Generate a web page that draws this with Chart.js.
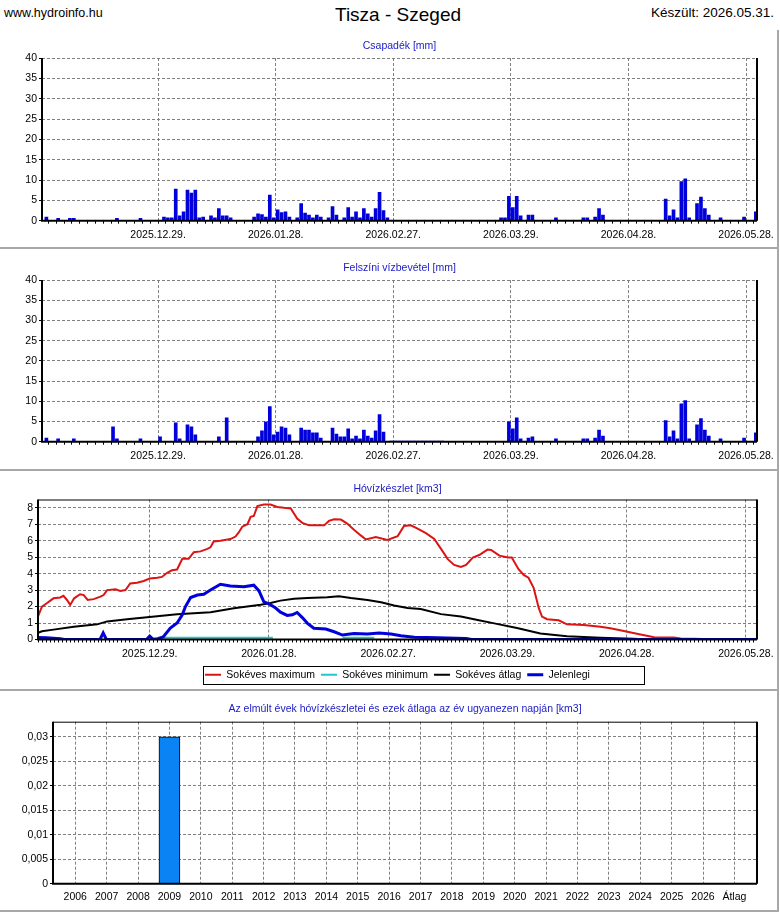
<!DOCTYPE html>
<html>
<head>
<meta charset="utf-8">
<title>Tisza - Szeged</title>
<script src="https://cdn.jsdelivr.net/npm/chart.js@4.4.1/dist/chart.umd.min.js"></script>
<style>
  html, body { margin: 0; padding: 0; background: #fff; }
  body { width: 780px; height: 913px; position: relative; overflow: hidden; font-family: "Liberation Sans", Arial, sans-serif; }
  .hdr { position: absolute; color: #000; white-space: nowrap; }
  .site { left: 4px; top: 6px; font-size: 12.5px; }
  .main { left: 335px; top: 4px; font-size: 19px; }
  .made { right: 6px; top: 5px; font-size: 13.5px; }
  canvas { position: absolute; left: 0; }
  .sep { position: absolute; left: 0; width: 779px; height: 2px; background: #a8a8a8; }
  .vsep { position: absolute; left: 777px; top: 30px; width: 2px; height: 882px; background: #a8a8a8; }
</style>
</head>
<body>
<div class="hdr site">www.hydroinfo.hu</div>
<div class="hdr main">Tisza - Szeged</div>
<div class="hdr made">Készült: 2026.05.31.</div>

<canvas id="c1" width="778" height="216" style="top:30px"></canvas>
<canvas id="c2" width="778" height="218" style="top:250px"></canvas>
<canvas id="c3" width="778" height="218" style="top:472px"></canvas>
<canvas id="c4" width="778" height="218" style="top:692px"></canvas>

<div class="sep" style="top:247px"></div>
<div class="sep" style="top:469px"></div>
<div class="sep" style="top:689px"></div>
<div class="sep" style="top:910px"></div>
<div class="vsep"></div>

<script>
// day index 0 = 2025.11.30.
const dateTicks = [29, 59, 89, 119, 149, 179];
const dateLabels = ['2025.12.29.', '2026.01.28.', '2026.02.27.', '2026.03.29.', '2026.04.28.', '2026.05.28.'];
const mmTicks = [0, 5, 10, 15, 20, 25, 30, 35, 40];

// Csapadék [mm]
const precipDays = [0, 3, 6, 7, 18, 24, 30, 31, 32, 33, 34, 35, 36, 37, 38, 39, 40, 42, 43, 44,
  45, 46, 47, 53, 54, 55, 56, 57, 58, 59, 60, 61, 62, 64, 65, 66, 67, 68, 69, 70,
  72, 73, 74, 76, 77, 78, 79, 80, 81, 82, 83, 84, 85, 86, 87, 116, 117, 118, 119, 120,
  121, 123, 124, 130, 137, 138, 140, 141, 142, 158, 159, 160, 161, 162, 163, 164, 166, 167, 168, 169,
  172, 178, 181];
const precipVals = [0.9, 0.6, 0.6, 0.6, 0.6, 0.6, 0.9, 0.7, 0.7, 7.8, 1.2, 2.2, 7.5, 6.8, 7.5, 0.7, 0.9, 1.2, 0.7, 3.0,
  1.2, 1.2, 0.7, 0.9, 1.7, 1.5, 0.9, 6.3, 0.7, 2.7, 2.0, 2.2, 0.9, 0.7, 4.2, 1.9, 1.4, 0.7, 1.4, 0.9,
  0.7, 3.5, 1.4, 0.7, 3.2, 0.9, 2.2, 0.7, 3.0, 1.7, 0.9, 3.0, 7.0, 2.5, 0.7, 0.7, 0.7, 6.0, 3.2, 6.0,
  1.2, 1.4, 1.4, 0.7, 0.7, 0.7, 0.9, 3.0, 1.4, 5.3, 1.2, 2.7, 0.7, 9.6, 10.3, 0.7, 4.2, 5.8, 3.0, 1.4,
  0.7, 0.9, 2.2];

// Felszíni vízbevétel [mm]
const inputDays = [0, 3, 7, 17, 18, 24, 29, 33, 34, 36, 37, 38, 44, 46, 54, 55, 56, 57, 58, 59,
  60, 61, 62, 65, 66, 67, 68, 69, 70, 73, 74, 75, 76, 77, 78, 79, 80, 81, 82, 83,
  84, 85, 86, 88, 89, 90, 91, 92, 93, 94, 95, 96, 97, 98, 99, 100, 101, 118, 119, 120,
  121, 123, 124, 130, 137, 138, 140, 141, 142, 158, 159, 160, 161, 162, 163, 164, 166, 167, 168, 169,
  172, 178, 181];
const inputVals = [0.9, 0.7, 0.7, 3.7, 0.7, 0.7, 1.2, 4.7, 0.7, 4.2, 3.7, 1.7, 1.2, 5.9, 1.2, 2.7, 4.9, 8.7, 1.7, 2.4,
  3.7, 3.4, 1.7, 3.4, 2.9, 2.9, 2.2, 2.2, 0.9, 3.4, 1.9, 1.2, 1.2, 3.2, 0.7, 1.4, 0.7, 2.9, 1.4, 0.9,
  2.7, 6.7, 2.4, 0.15, 0.15, 0.15, 0.15, 0.15, 0.15, 0.15, 0.15, 0.15, 0.15, 0.15, 0.15, 0.15, 0.15, 4.9, 3.2, 5.9,
  0.7, 0.9, 1.2, 0.7, 0.7, 0.7, 0.9, 2.9, 1.4, 5.2, 1.2, 2.7, 0.7, 9.4, 10.2, 0.7, 4.2, 5.7, 2.9, 1.4,
  0.7, 0.9, 2.2];

// Hóvízkészlet [km3]
const maxDays = [0.9, 1.9, 3.1, 4.8, 6.5, 7.3, 8.2, 9.0, 10.0, 11.5,
  12.4, 13.4, 14.9, 16.6, 17.4, 18.3, 20.4, 21.6, 22.9, 24.1,
  25.8, 27.5, 29.0, 30.9, 32.1, 33.4, 34.6, 35.9, 37.2, 38.8,
  40.1, 41.8, 43.5, 44.3, 45.1, 46.8, 49.3, 50.6, 51.4, 52.3,
  53.6, 54.4, 55.2, 56.1, 57.7, 59.4, 61.1, 62.8, 64.5, 66.1,
  67.4, 69.1, 72.9, 74.1, 75.4, 77.1, 78.7, 80.4, 82.1, 83.4,
  85.9, 88.8, 91.4, 93.0, 94.7, 96.4, 98.5, 100.6, 102.3, 104.0,
  105.6, 107.3, 108.6, 110.3, 111.9, 114.0, 114.9, 117.0, 119.1, 120.1,
  121.8, 123.1, 124.3, 125.6, 126.9, 127.7, 129.0, 131.9, 134.0, 138.2,
  142.4, 144.9, 148.3, 152.5, 155.9, 160.9, 162.6, 166.0, 172.0];
const maxVals = [1.4, 2.0, 2.2, 2.5, 2.55, 2.65, 2.4, 2.1, 2.5, 2.75,
  2.7, 2.4, 2.45, 2.6, 2.7, 3.0, 3.05, 2.95, 3.0, 3.4,
  3.45, 3.55, 3.7, 3.75, 3.8, 4.05, 4.2, 4.25, 4.9, 4.9,
  5.3, 5.35, 5.5, 5.6, 5.95, 6.0, 6.1, 6.25, 6.5, 6.85,
  7.0, 7.45, 7.5, 8.1, 8.2, 8.2, 8.05, 8.0, 7.96, 7.34,
  7.08, 6.93, 6.93, 7.2, 7.3, 7.28, 7.04, 6.67, 6.32, 6.07,
  6.22, 6.05, 6.28, 6.89, 6.93, 6.73, 6.46, 6.11, 5.5, 4.88,
  4.53, 4.41, 4.53, 4.98, 5.13, 5.46, 5.44, 5.09, 4.98, 4.98,
  4.27, 3.92, 3.75, 3.14, 1.9, 1.39, 1.23, 1.17, 0.92, 0.88,
  0.78, 0.68, 0.51, 0.31, 0.14, 0.12, 0.06, 0.04, 0];
const minDays = [32.5, 60.0, 60.5, 77.5, 85.5];
const minVals = [0.1, 0.1, null, 0.1, 0.1];
const avgDays = [0.9, 1.9, 4.8, 9.9, 15.8, 18.3, 23.3, 29.0, 35.9, 44.3,
  50.2, 56.9, 59.4, 61.9, 65.3, 68.7, 73.7, 76.6, 79.6, 83.8,
  87.2, 90.5, 93.9, 97.2, 102.3, 107.3, 111.5, 115.7, 121.4, 127.3,
  134.0, 142.4, 150.8, 153.3, 158.0];
const avgVals = [0.4, 0.5, 0.6, 0.78, 0.92, 1.1, 1.23, 1.37, 1.54, 1.66,
  1.9, 2.11, 2.22, 2.36, 2.48, 2.52, 2.56, 2.63, 2.52, 2.4,
  2.26, 2.07, 1.91, 1.85, 1.54, 1.39, 1.19, 0.98, 0.7, 0.37,
  0.2, 0.1, 0.04, 0.02, 0];
const curDays = [0.9, 3.0, 6.5, 7.5, 16.5, 17.3, 18.1, 28.2, 29.0, 29.8,
  31.0, 32.4, 34.2, 35.9, 37.2, 38.0, 39.3, 41.0, 42.6, 44.3,
  46.8, 49.3, 52.7, 55.2, 56.5, 57.7, 59.4, 60.7, 61.9, 63.6,
  64.9, 66.1, 67.4, 68.7, 70.3, 73.3, 75.4, 77.5, 80.4, 83.8,
  86.7, 89.7, 92.2, 95.6, 101.4, 108.6, 110.0, 181.8];
const curVals = [0.12, 0.1, 0.05, 0, 0, 0.4, 0, 0, 0.2, 0.02,
  0.05, 0.15, 0.7, 1.0, 1.5, 2.0, 2.55, 2.7, 2.75, 3.0,
  3.35, 3.25, 3.2, 3.3, 2.95, 2.3, 2.11, 1.91, 1.66, 1.46,
  1.5, 1.64, 1.33, 0.98, 0.68, 0.64, 0.47, 0.27, 0.37, 0.33,
  0.39, 0.33, 0.23, 0.14, 0.1, 0.06, 0, 0];
const kmTicks = [0, 1, 2, 3, 4, 5, 6, 7, 8];

// Az elmúlt évek hóvízkészletei ...
const years = ['2006', '2007', '2008', '2009', '2010', '2011', '2012', '2013', '2014', '2015', '2016',
  '2017', '2018', '2019', '2020', '2021', '2022', '2023', '2024', '2025', '2026', 'Átlag'];
const yearVals = [0, 0, 0, 0.03, 0, 0, 0, 0, 0, 0, 0, 0, 0, 0, 0, 0, 0, 0, 0, 0, 0, 0];
const yearTicks = [0, 0.005, 0.01, 0.015, 0.02, 0.025, 0.03];

const FONT = { family: '"Liberation Sans", Arial, sans-serif', size: 10.5 };
const GRID = '#808080';
const NONE = 'rgba(0,0,0,0)';
const TITLE_BLUE = '#2020c8';
const BAR_BLUE = '#0000dc';

Chart.defaults.font.family = FONT.family;
Chart.defaults.font.size = FONT.size;
Chart.defaults.color = '#000';

// black plot frame drawn over the data, like the original
const framePlugin = {
  id: 'frame',
  afterDatasetsDraw(chart, args, opts) {
    const { ctx, chartArea: a } = chart;
    ctx.save();
    ctx.strokeStyle = '#000';
    ctx.setLineDash([]);
    if (opts.top) {
      ctx.lineWidth = 1;
      ctx.beginPath();
      ctx.moveTo(a.left, a.top + 0.5);
      ctx.lineTo(a.right, a.top + 0.5);
      ctx.stroke();
    }
    ctx.lineWidth = 2;
    ctx.beginPath();
    ctx.moveTo(a.right, a.top);
    ctx.lineTo(a.right, a.bottom);
    ctx.moveTo(a.left, a.top);
    ctx.lineTo(a.left, a.bottom);
    ctx.lineTo(a.right, a.bottom);
    ctx.stroke();
    ctx.restore();
  }
};

const legendBoxPlugin = {
  id: 'legendBox',
  afterDraw(chart) {
    const lg = chart.legend;
    if (!lg || !lg.legendHitBoxes || !lg.legendHitBoxes.length) return;
    const hb = lg.legendHitBoxes;
    const first = hb[0], last = hb[hb.length - 1];
    const ctx = chart.ctx;
    ctx.save();
    ctx.strokeStyle = '#000';
    ctx.lineWidth = 1;
    ctx.strokeRect(Math.round(first.left) - 1.5, Math.round(first.top) - 3.5,
      Math.round(last.left + last.width - first.left) + 56, Math.round(first.height) + 7);
    ctx.restore();
  }
};

function pts(xs, ys, shift) {
  return xs.map((x, i) => ({ x: x + (shift || 0), y: ys[i] }));
}

function dayAxis(min, max, every, height) {
  return {
    type: 'linear', min, max, offset: false,
    afterBuildTicks: s => {
      const t = [];
      for (let d = Math.ceil(min); d <= max; d++) t.push({ value: d });
      s.ticks = t;
    },
    afterFit: s => { s.height = height; },
    ticks: {
      autoSkip: false, maxRotation: 0, minRotation: 0, padding: 5, font: FONT,
      callback: v => { const i = dateTicks.indexOf(v); return i < 0 ? '' : dateLabels[i]; }
    },
    grid: {
      offset: false, tickLength: 3,
      color: c => (c.tick && dateTicks.includes(c.tick.value)) ? GRID : NONE,
      tickColor: c => (c.tick && (every === 1 || c.tick.value % 2 === 1)) ? '#000' : NONE
    },
    border: { display: false, dash: [3, 2] }
  };
}

function valueAxis(min, max, ticks, width, fmt) {
  return {
    type: 'linear', min, max,
    afterBuildTicks: s => { s.ticks = ticks.map(v => ({ value: v })); },
    afterFit: s => { s.width = width; },
    ticks: { padding: 2, font: FONT, callback: fmt || (v => v) },
    grid: { color: GRID, tickColor: '#000', tickLength: 3 },
    border: { display: false, dash: [3, 2] }
  };
}

function titleOpts(text, top, bottom) {
  return {
    display: true, text, fullSize: false, color: TITLE_BLUE,
    font: { family: FONT.family, size: FONT.size, weight: 'normal' },
    padding: { top, bottom }
  };
}

function barChart(id, days, vals, title, tTop, tBottom, xHeight) {
  return new Chart(document.getElementById(id), {
    type: 'bar',
    data: { datasets: [{ data: pts(days, vals, 0.5), backgroundColor: BAR_BLUE, barThickness: 3 }] },
    options: {
      responsive: false, animation: false,
      layout: { padding: { left: 0, right: 21, top: 0, bottom: 0 } },
      scales: {
        x: dayAxis(-0.62, 181.8, 2, xHeight),
        y: valueAxis(0, 40, mmTicks, 42)
      },
      plugins: {
        legend: { display: false }, tooltip: { enabled: false },
        title: titleOpts(title, tTop, tBottom),
        frame: { top: false }
      }
    },
    plugins: [framePlugin]
  });
}

barChart('c1', precipDays, precipVals, 'Csapadék [mm]', 9.7, 5.7, 25.3);
barChart('c2', inputDays, inputVals, 'Felszíni vízbevétel [mm]', 11.7, 5.8, 26.3);

new Chart(document.getElementById('c3'), {
  type: 'line',
  data: {
    datasets: [
      { label: 'Sokéves maximum', data: pts(maxDays, maxVals), borderColor: '#dc1414', backgroundColor: '#dc1414', borderWidth: 2, order: 3 },
      { label: 'Sokéves minimum', data: pts(minDays, minVals), borderColor: '#22c8c8', backgroundColor: '#22c8c8', borderWidth: 2, order: 2 },
      { label: 'Sokéves átlag', data: pts(avgDays, avgVals), borderColor: '#000000', backgroundColor: '#000000', borderWidth: 2, order: 1 },
      { label: 'Jelenlegi', data: pts(curDays, curVals), borderColor: '#0000dc', backgroundColor: '#0000dc', borderWidth: 3, order: 0 }
    ]
  },
  options: {
    responsive: false, animation: false,
    elements: { point: { radius: 0 }, line: { tension: 0 } },
    layout: { padding: { left: 0, right: 21, top: 0, bottom: 0 } },
    scales: {
      x: dayAxis(0.9, 181.8, 1, 24),
      y: valueAxis(0, 8.5, kmTicks, 38)
    },
    plugins: {
      tooltip: { enabled: false },
      title: titleOpts('Hóvízkészlet [km3]', 10.7, 4.2),
      legend: {
        position: 'bottom', fullSize: false,
        labels: {
          usePointStyle: true, pointStyle: 'line', pointStyleWidth: 16, padding: 6,
          color: '#000', font: FONT,
          sort: (a, b) => a.datasetIndex - b.datasetIndex
        }
      },
      frame: { top: true }
    }
  },
  plugins: [framePlugin, legendBoxPlugin]
});

new Chart(document.getElementById('c4'), {
  type: 'bar',
  data: {
    datasets: [{
      data: yearVals.map((v, i) => ({ x: i, y: v })),
      backgroundColor: '#0a84f5', borderColor: '#000', borderWidth: 1, barThickness: 21
    }]
  },
  options: {
    responsive: false, animation: false,
    layout: { padding: { left: 0, right: 21, top: 0, bottom: 0 } },
    scales: {
      x: {
        type: 'linear', min: -0.71, max: 21.72, offset: false,
        afterBuildTicks: s => { s.ticks = years.map((y, i) => ({ value: i })); },
        afterFit: s => { s.height = 26.3; },
        ticks: { autoSkip: false, maxRotation: 0, minRotation: 0, padding: 7, font: FONT, callback: v => years[v] },
        grid: { offset: false, color: GRID, drawTicks: false },
        border: { display: false, dash: [3, 2] }
      },
      y: valueAxis(0, 0.0331, yearTicks, 53, v => String(parseFloat(v.toFixed(3))).replace('.', ','))
    },
    plugins: {
      legend: { display: false }, tooltip: { enabled: false },
      title: titleOpts('Az elmúlt évek hóvízkészletei és ezek átlaga az év ugyanezen napján [km3]', 10.7, 6.4),
      frame: { top: true }
    }
  },
  plugins: [framePlugin]
});
</script>
</body>
</html>
